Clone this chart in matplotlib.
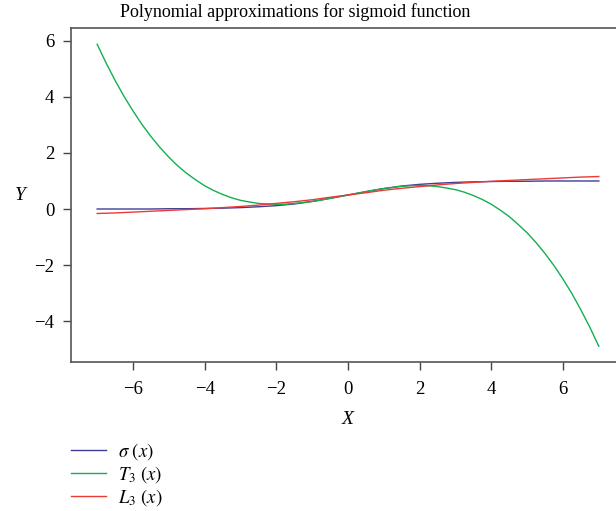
import matplotlib
matplotlib.use("Agg")
import matplotlib.pyplot as plt

# x grid the sigmoid and L3 curves were read at
xs = [-7.0, -6.5, -6.0, -5.5, -5.0, -4.5, -4.0, -3.5, -3.0, -2.5, -2.0, -1.5, -1.0, -0.5,
      0.0, 0.5, 1.0, 1.5, 2.0, 2.5, 3.0, 3.5, 4.0, 4.5, 5.0, 5.5, 6.0, 6.5, 7.0]

# sigma(x)
sigma = [0.00, 0.00, 0.00, 0.00, 0.01, 0.01, 0.02, 0.03, 0.05, 0.08, 0.12, 0.18, 0.27, 0.38,
         0.50, 0.62, 0.73, 0.82, 0.88, 0.92, 0.95, 0.97, 0.98, 0.99, 0.99, 1.00, 1.00, 1.00, 1.00]

# L3(x)
lsq = [-0.16, -0.14, -0.11, -0.08, -0.05, -0.02, 0.01, 0.05, 0.09, 0.14, 0.20, 0.26, 0.33, 0.42,
       0.50, 0.58, 0.67, 0.74, 0.80, 0.86, 0.91, 0.95, 0.99, 1.02, 1.05, 1.08, 1.11, 1.14, 1.16]

# T3(x) bends hard at the ends, read on a finer grid
xs_t = [-7.0, -6.75, -6.5, -6.25, -6.0, -5.75, -5.5, -5.25, -5.0, -4.75, -4.5, -4.25, -4.0,
        -3.75, -3.5, -3.25, -3.0, -2.75, -2.5, -2.25, -2.0, -1.75, -1.5, -1.25, -1.0, -0.75,
        -0.5, -0.25, 0.0, 0.25, 0.5, 0.75, 1.0, 1.25, 1.5, 1.75, 2.0, 2.25, 2.5, 2.75, 3.0,
        3.25, 3.5, 3.75, 4.0, 4.25, 4.5, 4.75, 5.0, 5.25, 5.5, 5.75, 6.0, 6.25, 6.5, 6.75, 7.0]
taylor = [5.88, 5.21, 4.59, 4.02, 3.50, 3.02, 2.59, 2.20, 1.85, 1.54, 1.27, 1.04, 0.83,
          0.66, 0.52, 0.40, 0.31, 0.25, 0.20, 0.18, 0.17, 0.17, 0.20, 0.23, 0.27, 0.32,
          0.38, 0.44, 0.50, 0.56, 0.62, 0.68, 0.73, 0.77, 0.81, 0.83, 0.84, 0.83, 0.80, 0.75, 0.69,
          0.60, 0.48, 0.34, 0.17, -0.04, -0.27, -0.55, -0.85, -1.20, -1.59, -2.02, -2.50, -3.02, -3.60, -4.22, -4.90]

labels = [r"$\sigma\ (x)$", r"$T_3\ (x)$", r"$L_3\ (x)$"]
colors = ["#3d3d96", "#12b050", "#ee3a36"]
xticks = [-6, -4, -2, 0, 2, 4, 6]
yticks = [-4, -2, 0, 2, 4, 6]

plt.rcParams["font.family"] = ["Liberation Serif", "DejaVu Serif"]
plt.rcParams["mathtext.fontset"] = "stix"
plt.rcParams["axes.unicode_minus"] = True

fig = plt.figure(figsize=(6.16, 5.11), dpi=100)
ax = fig.add_axes([71 / 616, 1 - 362 / 511, 545 / 616, 334 / 511])

ax.plot(xs, sigma, color=colors[0], linewidth=1.0, label=labels[0])
ax.plot(xs_t, taylor, color=colors[1], linewidth=1.0, label=labels[1])
ax.plot(xs, lsq, color=colors[2], linewidth=1.0, label=labels[2])

ax.set_xlim(-7.73, 7.48)
ax.set_ylim(-5.46, 6.46)
ax.set_xticks(xticks)
ax.set_yticks(yticks)
ax.tick_params(direction="out", length=6, width=1, colors="#444444", labelcolor="black", labelsize=13.5)
ax.tick_params(axis="x", pad=8)
ax.tick_params(axis="y", pad=6)

ax.spines["right"].set_visible(False)
for s in ["left", "bottom", "top"]:
    ax.spines[s].set_color("#555555")
    ax.spines[s].set_linewidth(1.2)

fig.text(295 / 616, 1 - 12 / 511, "Polynomial approximations for sigmoid function",
         ha="center", va="center", fontsize=13)
fig.text(348 / 616, 1 - 420 / 511, "X", ha="center", va="center", fontsize=14, style="italic")
fig.text(20 / 616, 1 - 196 / 511, "Y", ha="center", va="center", fontsize=14, style="italic")

fig.legend(loc="upper left", bbox_to_anchor=(71 / 616, 1 - 441 / 511), frameon=False,
           fontsize=13.5, handlelength=1.85, handletextpad=0.65, labelspacing=0.1,
           borderpad=0, borderaxespad=0)

fig.savefig("out.png", dpi=100)
